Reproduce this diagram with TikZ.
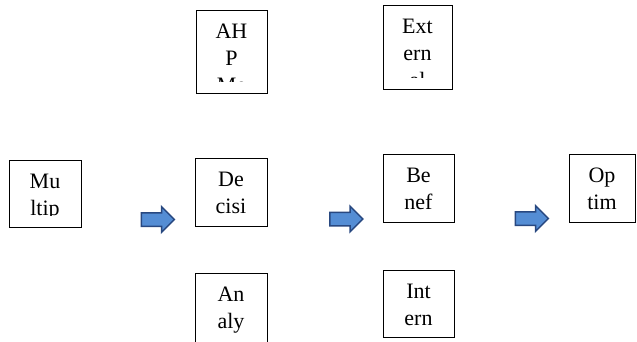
\documentclass[tikz,border=0pt]{standalone}
\usepackage{fontspec}
\setmainfont{Liberation Serif}
\usetikzlibrary{shapes.arrows, positioning}

\definecolor{arrowfill}{RGB}{84,141,212}
\definecolor{arrowline}{RGB}{40,72,128}

\tikzset{
  box/.style={draw, line width=0.8pt, inner sep=0pt},
  boxtext/.style={inner sep=0pt, align=center, font=\fontsize{22}{27}\selectfont},
  steparrow/.style={single arrow, draw=arrowline, fill=arrowfill, line width=1.5pt,
    inner sep=6pt, single arrow head extend=6pt, minimum width=24pt, minimum height=33pt}
}

% box with its text cut off near the lower edge
\newcommand{\cutbox}[6]{%
  \node[box, minimum width=#4pt, minimum height=#5pt] (#1) at (#2,#3) {};
  \begin{scope}
    \clip (#1.north west) rectangle ([yshift=12pt]#1.south east);
    \node[boxtext, anchor=north] (#1-text) at ([yshift=-14pt]#1.north) {#6};
  \end{scope}}

\begin{document}
\begin{tikzpicture}[x=1pt, y=-1pt]
  \clip (0,0) rectangle (637,342);
  \fill[white] (0,0) rectangle (637,342);

  % Top row
  \cutbox{ahp}{231.5}{51.5}{71}{83}{AH\\P\\Me}
  \cutbox{ext}{417.5}{47}{69}{84}{Ext\\ern\\al}

  % Middle row
  \cutbox{multi}{45}{193.5}{72}{67}{Mu\\ltip}
  \cutbox{dec}{231}{192}{72}{68}{De\\cisi}
  \cutbox{ben}{418.5}{188}{71}{68}{Be\\nef}
  \cutbox{opt}{602}{188}{66}{68}{Op\\tim}

  % Bottom row
  \cutbox{ana}{231}{311.5}{72}{77}{An\\aly}
  \cutbox{int}{418.5}{303.5}{71}{67}{Int\\ern}

  % Arrows
  \node[steparrow] (arr1) at (154.5,219.5) {};
  \node[steparrow] (arr2) at (343,219) {};
  \node[steparrow] (arr3) at (528.5,218.5) {};
\end{tikzpicture}
\end{document}
